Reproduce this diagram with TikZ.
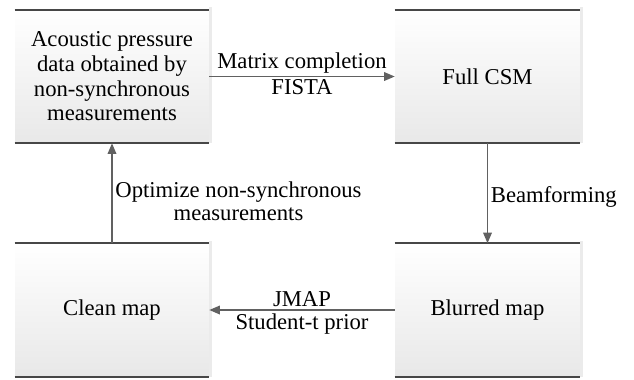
\documentclass[tikz,border=0pt]{standalone}
\usepackage{fontspec}
\setmainfont{Liberation Serif}
\usetikzlibrary{arrows.meta}

\begin{document}
\begin{tikzpicture}[x=0.75pt,y=0.75pt,yscale=-1,xscale=1,
  blk/.style={top color=white, bottom color=black!9, minimum height=99.75pt, inner sep=0pt, align=center, font=\fontsize{17}{18.5}\selectfont},
  lnk/.style={draw=black!62, line width=1.1pt, -{Triangle[length=8pt,width=6.5pt]}},
  lbl/.style={font=\fontsize{17}{17.5}\selectfont, inner sep=2pt, align=center}]
\useasboundingbox (0,0) rectangle (634,379);
\node[blk, minimum width=145.5pt] (acq) at (112,76.5) {Acoustic pressure\\data obtained by\\non-synchronous\\measurements};
\node[blk, minimum width=138.75pt] (csm) at (487.5,76.5) {Full CSM};
\node[blk, minimum width=145.5pt] (clean) at (112,310) {Clean map};
\node[blk, minimum width=138.75pt] (blur) at (487.5,310) {Blurred map};
\foreach \b in {acq,csm,clean,blur}{
  \fill[black!8] ([yshift=-2pt]\b.north east) rectangle ([xshift=2.25pt]\b.south east);
  \draw[black!72, line width=1.2pt] (\b.north west) -- (\b.north east) (\b.south west) -- (\b.south east);
}
\draw[lnk] (acq) -- (csm) node[midway, above, lbl] {Matrix completion} node[midway, below, lbl] {FISTA};
\draw[lnk] (csm) -- (blur) node[midway, right, lbl, yshift=-3pt] {Beamforming};
\draw[lnk] (blur) -- (clean) node[midway, above, lbl] {JMAP} node[midway, below, lbl] {Student-t prior};
\draw[lnk] (clean) -- (acq) node[midway, right, lbl, yshift=-6pt] {Optimize non-synchronous\\measurements};
\end{tikzpicture}
\end{document}
